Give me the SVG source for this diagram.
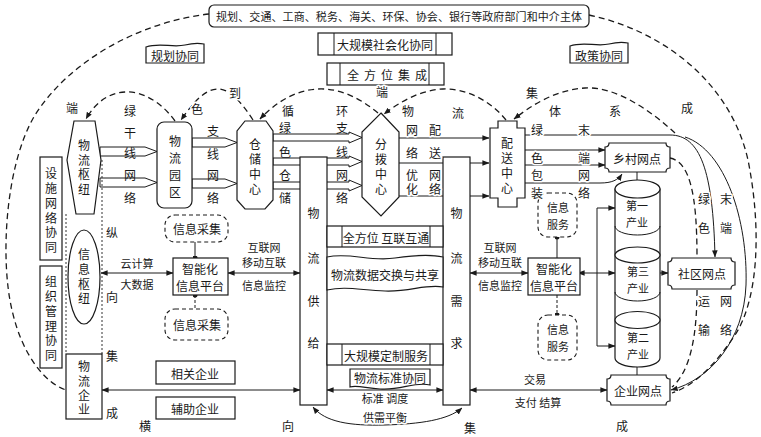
<svg xmlns="http://www.w3.org/2000/svg" width="761" height="437" viewBox="0 0 761 437">
<defs>
<marker id="a" viewBox="0 0 10 10" refX="9.5" refY="5" markerWidth="7" markerHeight="7" markerUnits="userSpaceOnUse" orient="auto-start-reverse"><path d="M0,1 L10,5 L0,9 Z" fill="#1a1a1a"/></marker>
<marker id="o" viewBox="0 0 10 10" refX="5" refY="5" markerWidth="5" markerHeight="5" markerUnits="userSpaceOnUse"><circle cx="5" cy="5" r="5" fill="#1a1a1a"/></marker>
</defs>
<style>
text{font-family:"Noto Sans CJK SC","Noto Sans",sans-serif;font-size:12px;fill:#1a1a1a;text-anchor:middle;dominant-baseline:central}
.sm{font-size:11px}
.h{stroke:#fff;stroke-width:3px;paint-order:stroke;stroke-linejoin:round}
.b{fill:#fff;stroke:#1a1a1a;stroke-width:1.2}
.l{fill:none;stroke:#1a1a1a;stroke-width:1}
.dl{fill:none;stroke:#1a1a1a;stroke-width:1;stroke-dasharray:3 2}
.d{fill:none;stroke:#1a1a1a;stroke-width:1.3;stroke-dasharray:6 4}
.db{fill:#fff;stroke:#1a1a1a;stroke-width:1.1;stroke-dasharray:4 3}
.dt{fill:none;stroke:#333;stroke-width:1;stroke-dasharray:2 2}
.ha{fill:#fff;stroke:#1a1a1a;stroke-width:1}
</style>
<rect width="761" height="437" fill="#fff"/>

<g id="connectors">
<path class="d" d="M209,14 C140,22 70,60 35,115 C5,165 0,260 12,310 C22,355 45,383 66,390"/>
<path class="d" d="M589,15 C660,30 730,80 748,160 C762,230 758,300 735,335 C715,365 695,385 672,393"/>
<path class="l" d="M525,135 L670,135 C700,135 713,170 715,257" marker-end="url(#a)"/>
<path class="l" d="M685,137 C725,150 748,220 746,285 C744,340 710,380 671,390" marker-end="url(#a)"/>
<path class="d" d="M670,158 C690,162 697,195 697,257"/>
<path class="d" d="M697,290 C697,330 692,370 672,387"/>
<path class="d" d="M675,133 C650,110 615,86 585,88 C555,90 532,105 514,119" marker-end="url(#a)"/>
<path class="d" d="M506,120 C490,100 465,88 443,89 C420,90 400,102 384,114" marker-end="url(#a)"/>
<path class="d" d="M378,113 C360,98 340,88 318,89 C295,90 275,103 260,119" marker-end="url(#a)"/>
<path class="d" d="M253,120 C240,100 228,88 217,89 C205,90 195,100 181,120" marker-end="url(#a)"/>
<path class="d" d="M175,121 C160,100 140,91 125,92 C108,93 95,103 86,119" marker-end="url(#a)"/>
<polygon class="ha" points="100,147 145,147 157,151.5 145,156 100,156"/>
<polygon class="ha" points="100,178 145,178 157,182.5 145,187 100,187"/>
<polygon class="ha" points="192,138 225,138 237,142.5 225,147 192,147"/>
<polygon class="ha" points="192,179 225,179 237,183.5 225,188 192,188"/>
<polygon class="ha" points="273,134 349,134 349,132 362,137.5 349,143 349,141 273,141"/>
<polygon class="ha" points="273,158 349,158 349,156 362,161.5 349,167 349,165 273,165"/>
<polygon class="ha" points="273,182 349,182 349,180 362,185.5 349,191 349,189 273,189"/>
<path class="l" d="M399,138 L489,138" marker-end="url(#a)"/>
<path class="l" d="M398,163 L489,163" marker-end="url(#a)"/>
<path class="l" d="M397,196 L489,196" marker-end="url(#a)"/>
<path class="l" d="M525,150 L605,150" marker-end="url(#a)"/>
<path class="l" d="M525,165 L605,165" marker-end="url(#a)"/>
<path class="l" d="M525,183 L600,183 C612,183 618,180 622,174" marker-end="url(#a)"/>
<path class="l" d="M637,172 L637,181"/>
<path class="l" d="M637,366 L637,375"/>
<path class="l" d="M660,273 L668,273" marker-end="url(#a)"/>
<path class="l" d="M578,273 L615,273" marker-start="url(#a)" marker-end="url(#a)"/>
<path class="l" d="M615,208 L597,208 L597,346 L615,346" marker-start="url(#a)" marker-end="url(#a)"/>
<path class="l" d="M470,273 L528,273" marker-start="url(#a)" marker-end="url(#a)"/>
<path class="l" d="M228,273 L300,273" marker-start="url(#a)" marker-end="url(#a)"/>
<path class="l" d="M101,273 L173,273" marker-start="url(#a)" marker-end="url(#a)"/>
<path class="l" d="M195,242 L195,258" marker-end="url(#o)"/>
<path class="dl" d="M195,295 L195,309" marker-start="url(#o)"/>
<path class="l" d="M557,237 L557,258" marker-start="url(#o)"/>
<path class="dl" d="M557,295 L557,315" marker-end="url(#o)"/>
<path class="l" d="M102,390 L300,390" marker-start="url(#a)" marker-end="url(#a)"/>
<path class="l" d="M327,390 L443,390" marker-start="url(#a)" marker-end="url(#a)"/>
<path class="l" d="M470,390 L607,390" marker-start="url(#a)" marker-end="url(#a)"/>
<path class="l" d="M313,407 C325,422 350,426 385,425 C420,424 448,420 462,408" marker-start="url(#a)" marker-end="url(#a)"/>
<path class="dt" d="M66,214 L66,354"/>
<path class="dt" d="M102,160 L102,354"/>
</g>

<g id="gov"><rect class="b" x="209" y="5" width="380" height="22" rx="5"/><text class="sm" x="399" y="16" textLength="366" lengthAdjust="spacing">规划、交通、工商、税务、海关、环保、协会、银行等政府部门和中介主体</text></g>
<g id="plan"><path class="b" d="M146,47 C160,42 172,48 185,45 C193,43 199,43 204,44 L204,63 L146,63 Z"/><text x="175" y="55">规划协同</text></g>
<g id="policy"><path class="b" d="M570,46 C584,41 596,47 609,44 C617,42 623,42 628,43 L628,63 L570,63 Z"/><text x="599" y="55">政策协同</text></g>
<g id="social"><rect class="b" x="318" y="33" width="134" height="22"/><path class="l" d="M334,33 V55 M436,33 V55"/><text x="385" y="44">大规模社会化协同</text></g>
<g id="integ"><rect class="b" x="327" y="63" width="117" height="22"/><path class="l" d="M340,63 V85 M429,63 V85"/><text x="353 370 387 404 421" y="74">全方位集成</text></g>

<g id="hub"><polygon class="b" points="74,121 95,121 101,160 94,214 76,214 67,160"/><text x="84 84 84 84" y="144 159 173 188">物流枢纽</text></g>
<g id="facility"><rect class="b" x="40" y="157" width="22" height="103"/><text x="51 51 51 51 51 51" y="172 187 202 217 231 246">设施网络协同</text></g>
<g id="org"><rect class="b" x="40" y="266" width="22" height="102"/><text x="51 51 51 51 51 51" y="280 295 310 325 339 354">组织管理协同</text></g>
<g id="infohub"><ellipse class="b" cx="84" cy="277" rx="16" ry="47"/><text x="84 84 84 84" y="253 268 283 297">信息枢纽</text></g>
<g id="firm"><rect class="b" x="66" y="354" width="36" height="65"/><text x="84 84 84 84" y="365 380 394 408">物流企业</text></g>
<g id="park"><rect class="b" x="157" y="122" width="35" height="86" rx="7"/><text x="175 175 175 175" y="140 157 174 191">物流园区</text></g>
<g id="storage"><polygon class="b" points="245,121 266,121 273,131 273,200 265,209 245,209 237,200 237,131"/><text x="255 255 255 255" y="143 158 173 188">仓储中心</text></g>
<g id="dist"><polygon class="b" points="381,113 399,132 399,197 381,216 362,197 362,132"/><text x="381 381 381 381" y="143 158 173 188">分拨中心</text></g>
<g id="deliver"><polygon class="b" points="498,121 517,121 517,128 525,128 525,198 517,198 517,207 498,207 498,198 490,198 490,128 498,128"/><text x="507 507 507 507" y="142 157 172 187">配送中心</text></g>
<g id="supply"><rect class="b" x="300" y="157" width="27" height="248"/><text x="313.5 313.5 313.5 313.5" y="212 257 300 342">物流供给</text></g>
<g id="demand"><rect class="b" x="443" y="157" width="27" height="248"/><text x="456.5 456.5 456.5 456.5" y="212 257 300 342">物流需求</text></g>
<g id="connect"><rect class="b" x="327" y="226" width="116" height="21"/><path class="l" d="M342,226 V247 M430,226 V247"/><text x="386" y="237">全方位 互联互通</text></g>
<g id="exchange"><path class="b" d="M327,257 C350,252 370,262 395,258 C415,255 430,254 443,257 L443,287 C425,284 410,292 385,291 C360,290 345,286 327,290 Z"/><text x="385" y="274">物流数据交换与共享</text></g>
<g id="custom"><rect class="b" x="327" y="344" width="116" height="21"/><path class="l" d="M342,344 V365 M430,344 V365"/><text x="386" y="355">大规模定制服务</text></g>
<g id="standard"><path class="b" d="M350,369 L430,369 L430,385 C415,381 400,391 380,389 C365,388 357,385 350,387 Z"/><text x="390" y="377">物流标准协同</text></g>
<g id="related"><rect class="b" x="156" y="361" width="79" height="23"/><text x="195" y="373">相关企业</text></g>
<g id="aux"><rect class="b" x="156" y="397" width="79" height="22"/><text x="195" y="408">辅助企业</text></g>
<g id="platL"><rect class="b" x="173" y="258" width="55" height="37"/><text x="200" y="268">智能化</text><text x="200" y="285">信息平台</text></g>
<g id="collect1"><rect class="db" x="165" y="215" width="63" height="27" rx="10"/><text x="197" y="228">信息采集</text></g>
<g id="collect2"><rect class="db" x="165" y="309" width="63" height="31" rx="10"/><text x="197" y="324">信息采集</text></g>
<g id="platR"><rect class="b" x="528" y="258" width="52" height="37"/><text x="554" y="268">智能化</text><text x="554" y="285">信息平台</text></g>
<g id="service1"><rect class="db" x="538" y="193" width="39" height="44" rx="10"/><text class="sm" x="558" y="207">信息</text><text class="sm" x="558" y="224">服务</text></g>
<g id="service2"><rect class="db" x="538" y="315" width="39" height="45" rx="10"/><text class="sm" x="558" y="329">信息</text><text class="sm" x="558" y="346">服务</text></g>
<g id="village"><path class="b" d="M609,143 L666,143 Q666,147 670,147 L670,168 Q666,168 666,172 L609,172 Q609,168 605,168 L605,147 Q609,147 609,143 Z"/><text x="637" y="158">乡村网点</text></g>
<g id="community"><path class="b" d="M672,258 L731,258 Q731,262 735,262 L735,285 Q731,285 731,289 L672,289 Q672,285 668,285 L668,262 Q672,262 672,258 Z"/><text x="702" y="273">社区网点</text></g>
<g id="enterprise"><path class="b" d="M611,375 L666,375 Q666,379 670,379 L670,401 Q666,401 666,405 L611,405 Q611,401 607,401 L607,379 Q611,379 611,375 Z"/><text x="638" y="390">企业网点</text></g>
<g id="industry1"><path class="b" d="M615,189 L615,358 A22.5,9 0 0 0 660,358 L660,189 Z"/><ellipse class="b" cx="637.5" cy="189" rx="22.5" ry="9"/><path class="l" d="M615,226 A22.5,9 0 0 0 660,226"/><text class="sm" x="637" y="205">第一</text><text class="sm" x="637" y="222">产业</text></g>
<g id="industry3"><ellipse class="b" cx="637.5" cy="255" rx="22.5" ry="8"/><path class="l" d="M615,292 A22.5,9 0 0 0 660,292"/><text class="sm" x="638" y="271">第三</text><text class="sm" x="638" y="288">产业</text></g>
<g id="industry2"><ellipse class="b" cx="637.5" cy="320" rx="22.5" ry="8.5"/><text class="sm" x="638" y="337">第二</text><text class="sm" x="638" y="354">产业</text></g>

<g id="labels">
<text class="h" x="72" y="107">端</text><text class="h" x="130" y="110">绿</text><text class="h" x="197" y="108">色</text><text class="h" x="235" y="92">到</text><text class="h" x="288" y="110">循</text><text class="h" x="342" y="110">环</text><text class="h" x="382" y="91">端</text><text class="h" x="408" y="110">物</text><text class="h" x="458" y="112">流</text><text class="h" x="532" y="92">集</text><text class="h" x="555" y="110">体</text><text class="h" x="615" y="110">系</text><text class="h" x="687" y="107">成</text>
<text x="130 130 130 130" y="132 152 174 197">干线网络</text>
<text x="213 213 213 213" y="130 153 174 197">支线网络</text>
<text x="285 285 285 285" y="127 151 174 197">绿色仓储</text>
<text x="342 342 342 342" y="127 151 174 197">支线网络</text>
<text class="h" x="412 412 412 412" y="129 152 174 188">网络优化</text>
<text class="h" x="435 435 435 435" y="129 152 174 188">配送网络</text>
<text class="h" x="537 537 537 537" y="129 157 174 192">绿色包装</text>
<text class="h" x="584 584 584 584" y="129 157 174 192">末端网络</text>
<text class="h" x="704 704" y="198 227">绿色</text>
<text class="h" x="726 726" y="198 227">末端</text>
<text class="h" x="704 704" y="300 329">运输</text>
<text class="h" x="726 726" y="300 329">网络</text>
<text x="112" y="232">纵</text><text x="112" y="296">向</text><text x="112" y="355">集</text><text x="112" y="412">成</text>
<text x="145" y="425">横</text><text x="288" y="425">向</text><text x="470" y="427">集</text><text x="622" y="425">成</text>
<text class="sm" x="137" y="263">云计算</text><text class="sm" x="137" y="284">大数据</text>
<text class="sm" x="264" y="247">互联网</text><text class="sm" x="264" y="262">移动互联</text><text class="sm" x="264" y="285">信息监控</text>
<text class="sm" x="500" y="247">互联网</text><text class="sm" x="500" y="262">移动互联</text><text class="sm" x="500" y="285">信息监控</text>
<text class="sm" x="385" y="398">标准 调度</text>
<text class="sm h" x="385" y="417">供需平衡</text>
<text class="sm" x="535" y="379">交易</text>
<text class="sm" x="538" y="402">支付 结算</text>
</g>
</svg>
